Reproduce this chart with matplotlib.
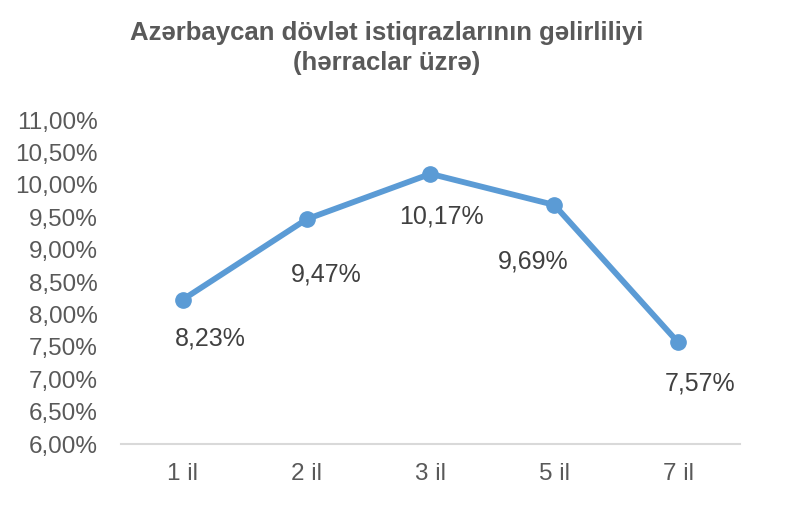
import matplotlib
matplotlib.use("Agg")
import matplotlib.pyplot as plt
from matplotlib.ticker import FuncFormatter

plt.rcParams['font.family'] = ['Liberation Sans', 'DejaVu Sans']

# chart data
categories = ["1 il", "2 il", "3 il", "5 il", "7 il"]
yields = [8.23, 9.47, 10.17, 9.69, 7.57]
y_ticks = [6.0, 6.5, 7.0, 7.5, 8.0, 8.5, 9.0, 9.5, 10.0, 10.5, 11.0]

# manual label offsets (points), as in the source chart
label_dx = [20, 14, 8, -15, 16]
label_dy = [-28, -40, -31, -41, -30]

line_color = "#5B9BD5"
text_color = "#595959"

fig = plt.figure(figsize=(7.88, 5.22), dpi=100)
ax = fig.add_axes([0.1536, 0.1494, 0.7854, 0.6206])

x = list(range(len(categories)))
ax.plot(x, yields, color=line_color, linewidth=4.2, marker="o",
        markersize=11, solid_capstyle="round", zorder=3)

for i, v in enumerate(yields):
    ax.annotate(f"{v:.2f}%".replace(".", ","), (i, v),
                xytext=(label_dx[i], label_dy[i]), textcoords="offset points",
                ha="center", va="center", fontsize=18, color="#404040")

ax.set_xlim(-0.5, len(categories) - 0.5)
ax.set_ylim(y_ticks[0], y_ticks[-1])
ax.set_yticks(y_ticks)
ax.yaxis.set_major_formatter(FuncFormatter(lambda v, p: f"{v:.2f}%".replace(".", ",")))
ax.set_xticks(x)
ax.set_xticklabels(categories)

for side in ["top", "right", "left"]:
    ax.spines[side].set_visible(False)
ax.spines["bottom"].set_color("#D9D9D9")
ax.spines["bottom"].set_linewidth(1.5)
ax.tick_params(axis="both", length=0, labelsize=17.5, labelcolor=text_color)
ax.tick_params(axis="y", pad=16.5)
ax.tick_params(axis="x", pad=14)

fig.text(0.491, 0.937, "Azərbaycan dövlət istiqrazlarının gəlirliliyi",
         ha="center", va="center", fontsize=18.5, fontweight="bold", color=text_color)
fig.text(0.491, 0.879, "(hərraclar üzrə)",
         ha="center", va="center", fontsize=18.5, fontweight="bold", color=text_color)

fig.savefig("out.png", dpi=100)
